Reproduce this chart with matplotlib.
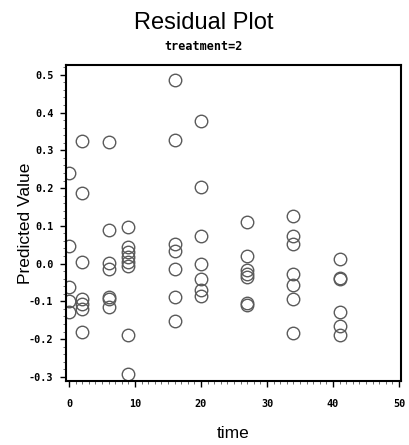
import matplotlib
matplotlib.use("Agg")
import matplotlib.pyplot as plt
from matplotlib.ticker import MultipleLocator, FormatStrFormatter

# Data
times = [0, 2, 6, 9, 16, 20, 27, 34, 41]
res_t0 = [0.239, 0.046, -0.063, -0.098, -0.129]
res_t2 = [0.324, 0.187, 0.003, -0.093, -0.108, -0.120, -0.182]
res_t6 = [0.321, 0.090, 0.002, -0.014, -0.088, -0.094, -0.116]
res_t9 = [0.098, 0.045, 0.032, 0.018, 0.003, -0.006, -0.189, -0.292]
res_t16 = [0.487, 0.327, 0.052, 0.033, -0.014, -0.089, -0.151]
res_t20 = [0.378, 0.203, 0.072, -0.001, -0.040, -0.071, -0.085]
res_t27 = [0.109, 0.021, -0.018, -0.027, -0.036, -0.105, -0.110]
res_t34 = [0.127, 0.074, 0.052, -0.027, -0.056, -0.095, -0.184]
res_t41 = [0.012, -0.037, -0.041, -0.129, -0.164, -0.190]
residuals = [res_t0, res_t2, res_t6, res_t9, res_t16, res_t20, res_t27, res_t34, res_t41]

x_ticks = [0, 10, 20, 30, 40, 50]
y_ticks = [-0.3, -0.2, -0.1, 0.0, 0.1, 0.2, 0.3, 0.4, 0.5]

xs, ys = [], []
for t, r in zip(times, residuals):
    xs.extend([t] * len(r))
    ys.extend(r)

fig = plt.figure(figsize=(4.09, 4.45), dpi=100)
ax = fig.add_axes([66/409, 1 - 381/445, (401-66)/409, (381-65)/445])

ax.plot(xs, ys, linestyle='none', marker='o', markersize=9.0,
        markerfacecolor='none', markeredgecolor='#5a5a5a', markeredgewidth=1.0)

ax.set_xlim(-0.45, 50.3)
ax.set_ylim(-0.311, 0.526)
ax.set_xticks(x_ticks)
ax.set_yticks(y_ticks)
ax.xaxis.set_minor_locator(MultipleLocator(1))
ax.yaxis.set_minor_locator(MultipleLocator(0.02))
ax.yaxis.set_major_formatter(FormatStrFormatter('%.1f'))

for lab in ax.get_xticklabels() + ax.get_yticklabels():
    lab.set_fontfamily('DejaVu Sans Mono')
    lab.set_fontweight('bold')
    lab.set_fontsize(7.3)

ax.tick_params(axis='both', which='major', direction='out', length=4, width=1.0, color='black')
ax.tick_params(axis='both', which='minor', direction='out', length=2, width=0.6, color='#555555')
ax.tick_params(axis='x', which='major', pad=9)
ax.tick_params(axis='y', which='major', pad=5)

for s in ax.spines.values():
    s.set_linewidth(1.5)
    s.set_color('black')

ax.set_xlabel('time', family='Liberation Sans', fontsize=12.5)
ax.set_ylabel('Predicted Value', family='Liberation Sans', fontsize=12.5)
ax.xaxis.set_label_coords(0.5, -0.165)
ax.yaxis.set_label_coords(-0.122, 0.5)
ax.xaxis.label.set_va('center')
ax.yaxis.label.set_va('center')

fig.text(204/409, 1 - 23/445, 'Residual Plot', family='Liberation Sans', fontsize=17,
         ha='center', va='center')
fig.text(204/409, 1 - 47/445, 'treatment=2', family='DejaVu Sans Mono', fontweight='bold',
         fontsize=8.5, ha='center', va='center')

fig.savefig('out.png', dpi=100)
